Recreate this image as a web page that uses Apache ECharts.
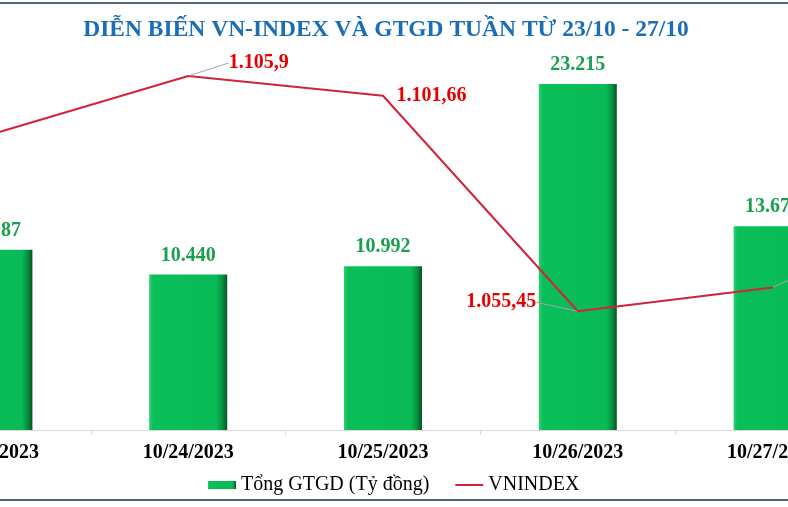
<!DOCTYPE html>
<html>
<head>
<meta charset="utf-8">
<script src="https://cdn.jsdelivr.net/npm/echarts@6/dist/echarts.min.js"></script>
<style>
html,body{margin:0;padding:0;background:#fff;overflow:hidden;}
#wrap{position:relative;width:788px;height:507px;overflow:hidden;}
#c{position:absolute;left:-104px;top:0;width:974px;height:507px;}
</style>
</head>
<body>
<div id="wrap"><div id="c"></div></div>
<script>
const categories = ['10/23/2023', '10/24/2023', '10/25/2023', '10/26/2023', '10/27/2023'];
const gtgd = [12087, 10440, 10992, 23215, 13675];
const vnindex = [1093.5, 1105.9, 1101.66, 1055.45, 1060.57];
const titleText = 'DIỄN BIẾN VN-INDEX VÀ GTGD TUẦN TỪ 23/10 - 27/10';
const barName = 'Tổng GTGD (Tỷ đồng)';
const lineName = 'VNINDEX';

const FONT = '"Liberation Serif", "Times New Roman", serif';
const OX = 104; // offset of visible window inside the wider chart canvas
const fmtBar = v => v.toLocaleString('de-DE');
const fmtLine = v => {
  const parts = String(v).split('.');
  const int = Number(parts[0]).toLocaleString('de-DE');
  return parts[1] ? int + ',' + parts[1] : int;
};

const lineLabelPos = ['left', 'right', 'right', 'left', 'right'];
const lineLabelShift = [[-20, -15], [35, -13], [8, 0], [-36, -9], [30, -16]];

const chart = echarts.init(document.getElementById('c'));
chart.setOption({
  animation: false,
  backgroundColor: '#ffffff',
  title: {
    text: titleText,
    left: OX + 381, top: 13, textAlign: 'center',
    textStyle: { fontFamily: FONT, fontSize: 23.5, fontWeight: 'bold', color: '#1b6db5' }
  },
  graphic: [
    { type: 'line', shape: { x1: OX, y1: 3, x2: OX + 788, y2: 3 }, style: { stroke: '#17304f', lineWidth: 1.5 } },
    { type: 'line', shape: { x1: OX, y1: 500, x2: OX + 788, y2: 500 }, style: { stroke: '#17304f', lineWidth: 1.5 } }
  ],
  legend: {
    bottom: 7, left: OX + 203,
    itemWidth: 28, itemHeight: 8, itemGap: 26,
    textStyle: { fontFamily: FONT, fontSize: 20, color: '#000' },
    data: [
      { name: barName, icon: 'rect' },
      { name: lineName, icon: 'path://M0,0 L14,0 L14,1 L0,1 Z' }
    ]
  },
  grid: { left: 0, right: 0, top: 41, bottom: 77 },
  xAxis: {
    type: 'category',
    data: categories,
    axisLine: { lineStyle: { color: '#d9d9d9', width: 1 } },
    axisTick: { show: true, length: 5, lineStyle: { color: '#d9d9d9' } },
    axisLabel: { fontFamily: FONT, fontSize: 20, fontWeight: 'bold', color: '#000', margin: 13 }
  },
  yAxis: [
    { type: 'value', min: 0, max: 26100, show: false, splitLine: { show: false } },
    { type: 'value', min: 1030, max: 1113.4, show: false, splitLine: { show: false } }
  ],
  series: [
    {
      name: barName,
      type: 'bar',
      data: gtgd,
      barWidth: 78,
      itemStyle: {
        color: new echarts.graphic.LinearGradient(0, 0, 1, 0, [
          { offset: 0, color: '#2fcf74' },
          { offset: 0.05, color: '#0abe59' },
          { offset: 0.86, color: '#08bb56' },
          { offset: 0.94, color: '#078f40' },
          { offset: 1, color: '#0a4f25' }
        ])
      },
      label: {
        show: true, position: 'top', distance: 9,
        formatter: p => fmtBar(p.value),
        fontFamily: FONT, fontSize: 20, fontWeight: 'bold', color: '#1a9e50'
      },
      z: 2
    },
    {
      name: lineName,
      type: 'line',
      yAxisIndex: 1,
      data: vnindex.map((v, i) => ({
        value: v,
        label: { position: lineLabelPos[i] },
        labelLine: { show: i !== 2 }
      })),
      symbol: 'circle',
      symbolSize: 1,
      showSymbol: true,
      lineStyle: { color: '#d2233c', width: 2 },
      itemStyle: { color: '#d2233c' },
      label: {
        show: true, distance: 5,
        formatter: p => fmtLine(p.value),
        fontFamily: FONT, fontSize: 20, fontWeight: 'bold', color: '#e60000'
      },
      labelLine: { show: true, lineStyle: { color: '#a6a6a6', width: 1 } },
      labelLayout: function (params) {
        const s = lineLabelShift[params.dataIndex] || [0, 0];
        return { dx: s[0], dy: s[1] };
      },
      z: 5
    }
  ]
});
</script>
</body>
</html>
